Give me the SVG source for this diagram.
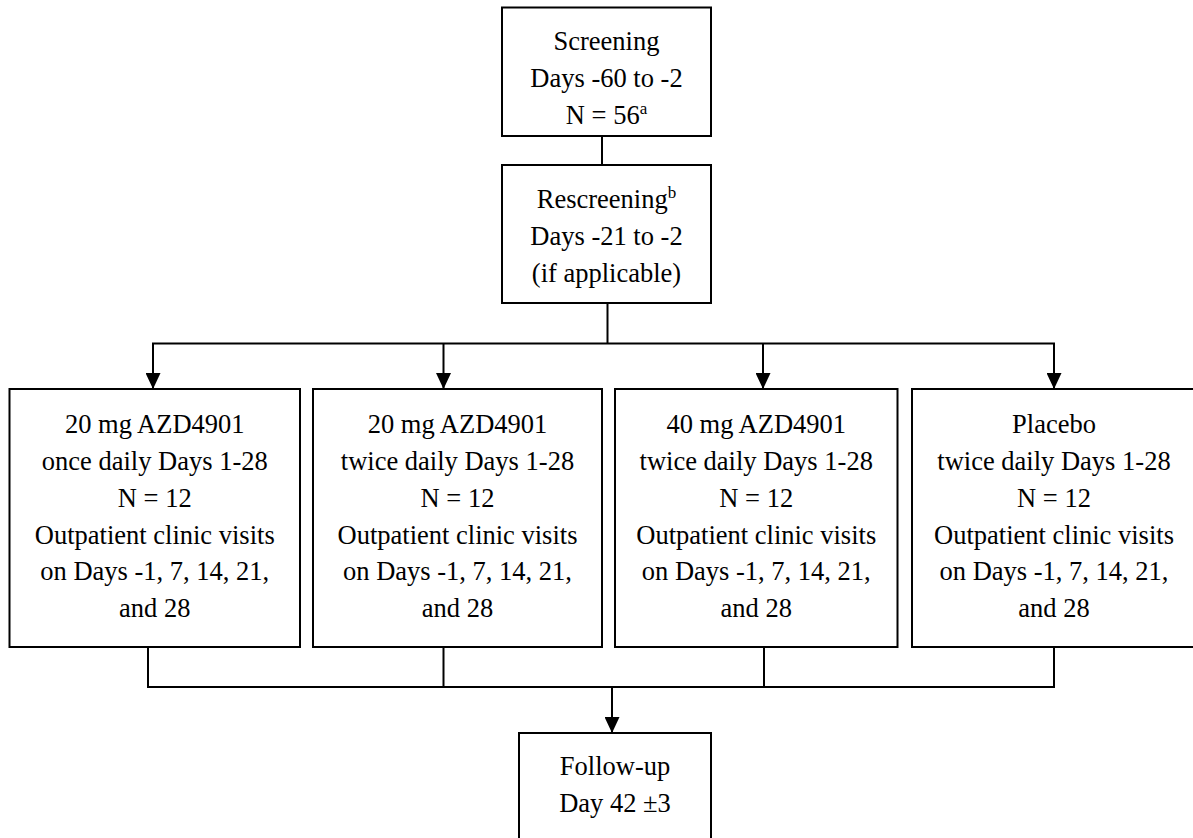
<svg xmlns="http://www.w3.org/2000/svg" width="1193" height="838" viewBox="0 0 1193 838">
<style>
.box{fill:#fff;stroke:#000;stroke-width:2}
.ln{fill:none;stroke:#000;stroke-width:2}
.t{font-size:26.5px;fill:#000;text-anchor:middle}
.sup{font-size:17px}
</style>
<defs>
<marker id="arr" viewBox="0 0 16 15" refX="16" refY="7.5" markerWidth="16" markerHeight="15" markerUnits="userSpaceOnUse" orient="auto">
<path d="M0,0 L16,7.5 L0,15 z" fill="#000"/>
</marker>
</defs>
<rect width="1193" height="838" fill="#fff"/>
<g id="connectors">
<line class="ln" x1="602" y1="136" x2="602" y2="165"/>
<line class="ln" x1="607.5" y1="303" x2="607.5" y2="343.5"/>
<line class="ln" x1="152" y1="343.5" x2="1055" y2="343.5"/>
<line class="ln" x1="153" y1="343.5" x2="153" y2="389" marker-end="url(#arr)"/>
<line class="ln" x1="443.5" y1="343.5" x2="443.5" y2="389" marker-end="url(#arr)"/>
<line class="ln" x1="763" y1="343.5" x2="763" y2="389" marker-end="url(#arr)"/>
<line class="ln" x1="1054" y1="343.5" x2="1054" y2="389" marker-end="url(#arr)"/>
<line class="ln" x1="148" y1="647" x2="148" y2="687"/>
<line class="ln" x1="443.5" y1="647" x2="443.5" y2="687"/>
<line class="ln" x1="764" y1="647" x2="764" y2="687"/>
<line class="ln" x1="1054" y1="647" x2="1054" y2="687"/>
<line class="ln" x1="147" y1="687" x2="1055" y2="687"/>
<line class="ln" x1="612" y1="687" x2="612" y2="733" marker-end="url(#arr)"/>
</g>
<g font-family="'Liberation Serif', 'Times New Roman', Tinos, 'DejaVu Serif', serif">
<g id="screening">
<rect class="box" x="502" y="7.5" width="209" height="128.5"/>
<text class="t" x="606.5" y="50">Screening</text>
<text class="t" x="606.5" y="87">Days -60 to -2</text>
<text class="t" x="606.5" y="124">N = 56<tspan class="sup" dy="-10">a</tspan></text>
</g>
<g id="rescreening">
<rect class="box" x="502" y="165" width="209" height="138"/>
<text class="t" x="606.5" y="208">Rescreening<tspan class="sup" dy="-10">b</tspan></text>
<text class="t" x="606.5" y="245">Days -21 to -2</text>
<text class="t" x="606.5" y="282">(if applicable)</text>
</g>
<g id="arm1">
<rect class="box" x="9.5" y="389" width="290.5" height="258"/>
<text class="t" x="154.75" y="433">20 mg AZD4901</text>
<text class="t" x="154.75" y="470">once daily Days 1-28</text>
<text class="t" x="154.75" y="506.5">N = 12</text>
<text class="t" x="154.75" y="543.5">Outpatient clinic visits</text>
<text class="t" x="154.75" y="580">on Days -1, 7, 14, 21,</text>
<text class="t" x="154.75" y="617">and 28</text>
</g>
<g id="arm2">
<rect class="box" x="313" y="389" width="289" height="258"/>
<text class="t" x="457.5" y="433">20 mg AZD4901</text>
<text class="t" x="457.5" y="470">twice daily Days 1-28</text>
<text class="t" x="457.5" y="506.5">N = 12</text>
<text class="t" x="457.5" y="543.5">Outpatient clinic visits</text>
<text class="t" x="457.5" y="580">on Days -1, 7, 14, 21,</text>
<text class="t" x="457.5" y="617">and 28</text>
</g>
<g id="arm3">
<rect class="box" x="615" y="389" width="282.5" height="258"/>
<text class="t" x="756.25" y="433">40 mg AZD4901</text>
<text class="t" x="756.25" y="470">twice daily Days 1-28</text>
<text class="t" x="756.25" y="506.5">N = 12</text>
<text class="t" x="756.25" y="543.5">Outpatient clinic visits</text>
<text class="t" x="756.25" y="580">on Days -1, 7, 14, 21,</text>
<text class="t" x="756.25" y="617">and 28</text>
</g>
<g id="arm4">
<rect class="box" x="912" y="389" width="284" height="258"/>
<text class="t" x="1054" y="433">Placebo</text>
<text class="t" x="1054" y="470">twice daily Days 1-28</text>
<text class="t" x="1054" y="506.5">N = 12</text>
<text class="t" x="1054" y="543.5">Outpatient clinic visits</text>
<text class="t" x="1054" y="580">on Days -1, 7, 14, 21,</text>
<text class="t" x="1054" y="617">and 28</text>
</g>
<g id="followup">
<rect class="box" x="519" y="733" width="192" height="130"/>
<text class="t" x="615" y="775">Follow-up</text>
<text class="t" x="615" y="812">Day 42 ±3</text>
</g>
</g>
</svg>
